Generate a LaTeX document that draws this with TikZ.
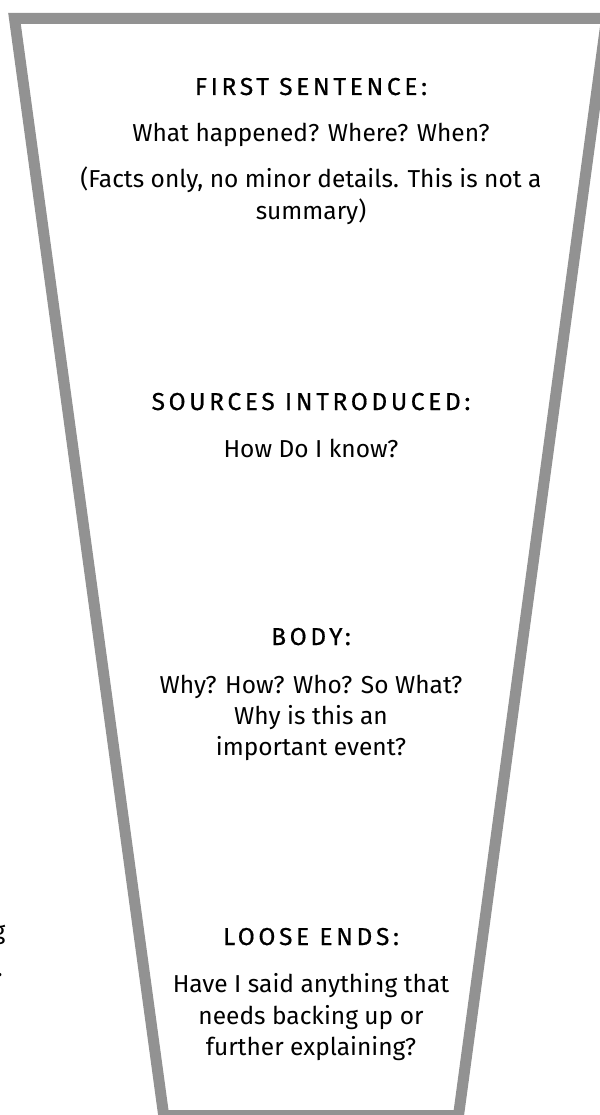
\documentclass[tikz,border=0pt]{standalone}
\usepackage{fontspec}
\setmainfont{Fira Sans}
\newfontfamily\headfont[LetterSpace=15, FakeBold=0.6]{Fira Sans}
\definecolor{funnelgray}{RGB}{146,146,146}
\tikzset{
  head/.style={anchor=base, inner sep=0pt, font=\headfont\fontsize{24.5}{32}\selectfont},
  txt/.style={anchor=base, inner sep=0pt, font=\fontsize{24.5}{32}\selectfont},
}
\begin{document}
\begin{tikzpicture}[x=1pt, y=-1pt]
	\useasboundingbox (0,0) rectangle (599,1115);
	% funnel outline
	\draw[funnelgray, line width=11pt, line join=miter]
		(14.5,18.5) -- (606.6,18.5) -- (458.5,1115.5) -- (163.7,1115.5) -- cycle;

	\node[head] (first)  at (311,95)  {FIRST SENTENCE:};
	\node[txt]  (first1) at (311,142) {What happened? Where? When?};
	\node[txt]  (first2) at (311,188) {(Facts only, no minor details. This is not a};
	\node[txt]  (first3) at (311,220) {summary)};

	\node[head] (src)  at (311,410) {SOURCES INTRODUCED:};
	\node[txt]  (src1) at (311,457) {How Do I know?};

	\node[head] (body)  at (311,645) {BODY:};
	\node[txt]  (body1) at (311,693) {Why? How? Who? So What?};
	\node[txt]  (body2) at (311,724) {Why is this an};
	\node[txt]  (body3) at (311,755) {important event?};

	\node[head] (ends)  at (311,945)  {LOOSE ENDS:};
	\node[txt]  (ends1) at (311,992)  {Have I said anything that};
	\node[txt]  (ends2) at (311,1024) {needs backing up or};
	\node[txt]  (ends3) at (311,1055) {further explaining?};

	% cut-off text at the left edge
	\node[txt, anchor=base east] (frag1) at (5.5,939) {g};
	\node[txt, anchor=base east] (frag2) at (3,976)   {.};
\end{tikzpicture}
\end{document}
